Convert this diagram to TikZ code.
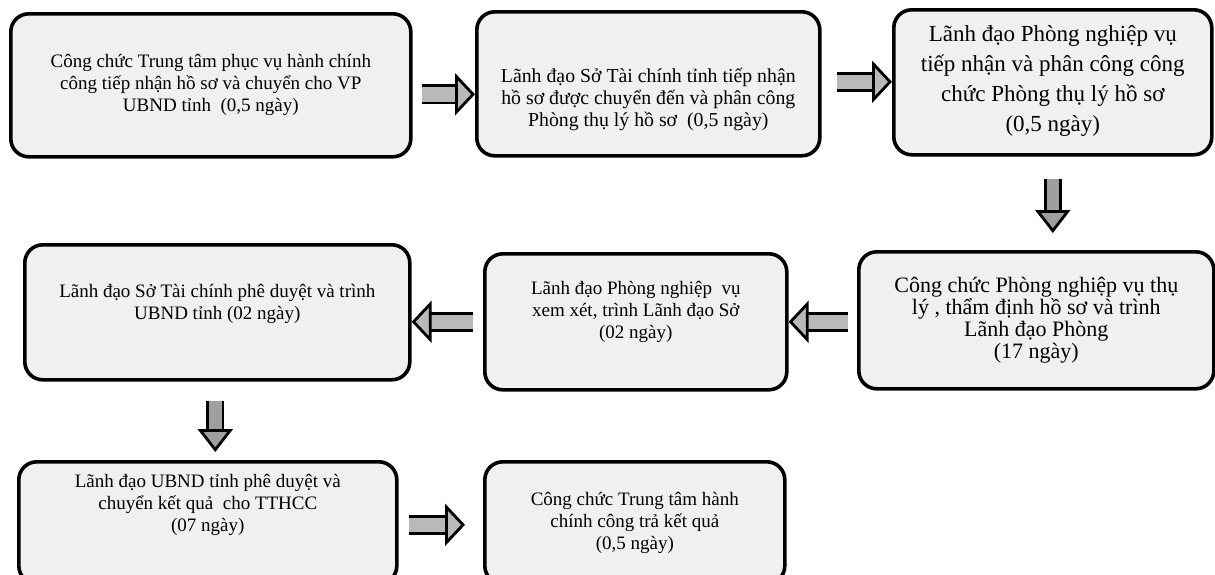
\documentclass[tikz,border=0pt]{standalone}
\usepackage{fontspec}
\setmainfont{Liberation Serif}
\usetikzlibrary{arrows.meta,positioning,calc}
\tikzset{
    stepbox/.style={draw, line width=1.8pt, rounded corners=9pt, fill=gray!12, align=center,
        inner sep=0pt, anchor=north west, font=\fontsize{9.5}{11}\selectfont},
    bigtext/.style={font=\fontsize{11}{11}\selectfont},
    blockarrow/.style={draw=black, line width=1.4pt, double=gray!55, double distance=7.2pt,
        -{Triangle[length=10pt, width=21pt, fill=gray!55, line width=1.4pt]}},
    downarrow/.style={draw=black, line width=1.4pt, double=gray!75, double distance=6.2pt,
        -{Triangle[length=11.5pt, width=17.5pt, fill=gray!75, line width=1.4pt]}}
}

\begin{document}
\begin{tikzpicture}[x=0.5pt, y=-0.5pt]
    \clip (0,0) rectangle (1215,574);
    % row 1
    \node[stepbox, minimum width=200pt, minimum height=71.5pt] (b1) at (9,12)
        {Công chức Trung tâm phục vụ hành chính\\ công tiếp nhận hồ sơ và chuyển cho VP\\ UBND tỉnh~ (0,5 ngày)};
    \node[stepbox, font=\fontsize{9.9}{11}\selectfont, minimum width=171.5pt, minimum height=72pt] (b2) at (475,10)
        {\rule{0pt}{23pt}Lãnh đạo Sở Tài chính tỉnh tiếp nhận\\ hồ sơ được chuyển đến và phân công\\ Phòng thụ lý hồ sơ~ (0,5 ngày)};
    \node[stepbox, font=\fontsize{11.5}{15}\selectfont, minimum width=159pt, minimum height=72.5pt] (b3) at (892,8)
        {Lãnh đạo Phòng nghiệp vụ\\ tiếp nhận và phân công công\\ chức Phòng thụ lý hồ sơ\\ (0,5 ngày)\rule[-4pt]{0pt}{0pt}};
    % row 2
    \node[stepbox, bigtext, minimum width=177.5pt, minimum height=68.5pt] (b6) at (857,250)
        {Công chức Phòng nghiệp vụ thụ\\ lý , thẩm định hồ sơ và trình\\ Lãnh đạo Phòng\\ (17 ngày)};
    \node[stepbox, minimum width=151pt, minimum height=68pt] (b5) at (483,252)
        {Lãnh đạo Phòng nghiệp~ vụ\\ xem xét, trình Lãnh đạo Sở\\ (02 ngày)\rule[-12pt]{0pt}{0pt}};
    \node[stepbox, minimum width=192.5pt, minimum height=67.5pt] (b4) at (23,243)
        {Lãnh đạo Sở Tài chính phê duyệt và trình\\ UBND tỉnh (02 ngày)\rule[-10pt]{0pt}{0pt}};
    % row 3
    \node[stepbox, minimum width=189pt, minimum height=61pt] (b7) at (17,460)
        {Lãnh đạo UBND tỉnh phê duyệt và\\ chuyển kết quả~ cho TTHCC\\ (07 ngày)\rule[-20pt]{0pt}{0pt}};
    \node[stepbox, minimum width=150pt, minimum height=61pt] (b8) at (483,460)
        {Công chức Trung tâm hành\\ chính công trả kết quả\\ (0,5 ngày)};

    % block arrows
    \draw[blockarrow] ($(b1.east)+(9,9)$) coordinate (s1) -- (s1 -| b2.west);
    \draw[blockarrow] ($(b2.east)+(15,-2)$) coordinate (s2) -- (s2 -| b3.west);
    \draw[downarrow] ($(b3.south)+(0,22)$) coordinate (s3) -- ($(s3 |- b6.north)+(0,-17)$);
    \draw[blockarrow] ($(b6.west)+(-9,1.5)$) coordinate (s4) -- (s4 -| b5.east);
    \draw[blockarrow] ($(b5.west)+(-10,0)$) coordinate (s5) -- (s5 -| b4.east);
    \draw[downarrow] ($(b4.south)+(-2,19)$) coordinate (s6) -- ($(s6 |- b7.north)+(0,-8)$);
    \draw[blockarrow] ($(b7.east)+(10,2)$) coordinate (s7) -- ($(s7 -| b8.west)+(-18,0)$);
\end{tikzpicture}
\end{document}
